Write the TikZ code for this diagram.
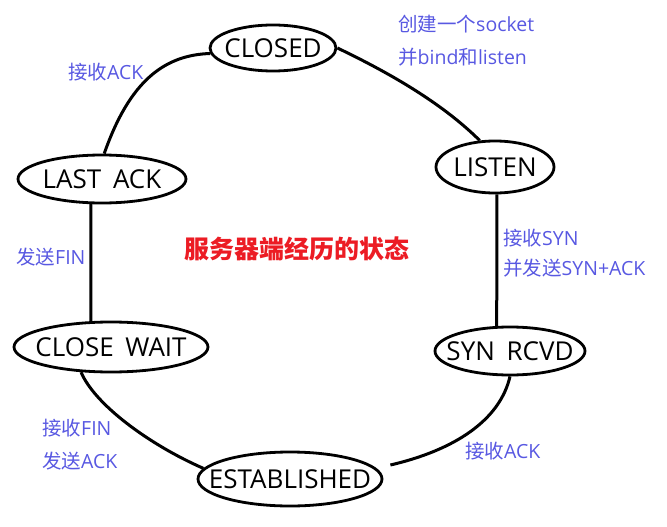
\documentclass[tikz,border=0pt]{standalone}
\usepackage{fontspec}
\setmainfont{Open Sans}
\newfontfamily\cjk{Noto Sans CJK SC}
\usetikzlibrary{shapes.geometric}
\definecolor{lblue}{RGB}{88,88,226}
\definecolor{tred}{RGB}{236,28,36}
\newcommand{\stxt}[1]{\makebox[0pt]{#1}}
\begin{document}
\begin{tikzpicture}[x=1pt,y=-1pt,
  state/.style={ellipse,draw=black,line width=2.8pt,inner sep=0pt,font=\fontsize{26}{30}\selectfont},
  edge/.style={line width=3pt},
  lbl/.style={anchor=west,inner sep=0pt,text=lblue,font=\fontsize{19.5}{23}\selectfont},
  ttl/.style={inner sep=0pt,text=tred,font=\fontsize{25}{30}\selectfont\cjk\bfseries}]
\useasboundingbox[fill=white] (0,0) rectangle (667,527);
\node[state,minimum width=126pt,minimum height=46pt] (closed) at (273,48) {\stxt{CLOSED}};
\node[state,minimum width=118pt,minimum height=52pt] (listen) at (495,167) {\stxt{LISTEN}};
\node[state,minimum width=150pt,minimum height=48pt] (synrcvd) at (510,351) {\stxt{SYN\hspace{0.45em}RCVD}};
\node[state,minimum width=184pt,minimum height=54pt] (established) at (290,479) {\stxt{\raisebox{-4pt}{ESTABLISHED}}};
\node[state,minimum width=194pt,minimum height=50pt] (closewait) at (111,347) {\stxt{CLOSE\hspace{0.45em}WAIT}};
\node[state,minimum width=168pt,minimum height=48pt] (lastack) at (102,179) {\stxt{LAST\hspace{0.45em}ACK}};
\draw[edge] (closed.east) .. controls (396,76) and (445,106) .. (listen.120);
\draw[edge] (closed.185) .. controls (165,55) and (130,80) .. (lastack.85);
\draw[edge] (lastack.246) -- (closewait.128);
\draw[edge] (listen.274) -- (synrcvd.118);
\draw[edge] (closewait.220) .. controls (95,405) and (150,445) .. (established.173);
\draw[edge] (synrcvd.south) .. controls (500,420) and (455,450) .. ([shift={(7,-14)}]established.east);
\node[lbl] (l1) at (398,24) {{\cjk 创建一个}socket};
\node[lbl] (l2) at (398,57) {{\cjk 并}bind{\cjk 和}listen};
\node[lbl] (l3) at (68,72) {{\cjk 接收}ACK};
\node[lbl] (l4) at (16,257) {{\cjk 发送}FIN};
\node[lbl] (l5) at (503,238) {{\cjk 接收}SYN};
\node[lbl] (l6) at (503,268) {{\cjk 并发送}SYN+ACK};
\node[lbl] (l7) at (42,428) {{\cjk 接收}FIN};
\node[lbl] (l8) at (42,461) {{\cjk 发送}ACK};
\node[lbl] (l9) at (465,451) {{\cjk 接收}ACK};
\node[ttl] (title) at (297,249) {服务器端经历的状态};
\end{tikzpicture}
\end{document}
